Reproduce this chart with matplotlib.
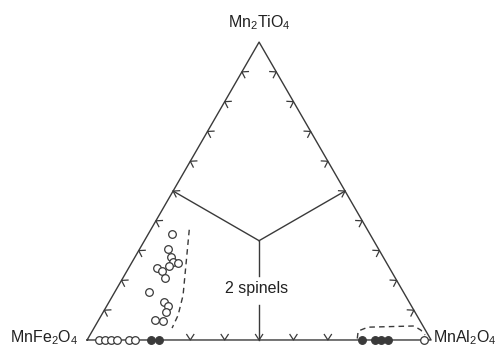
import numpy as np
import matplotlib.pyplot as plt

plt.rcParams['font.family'] = ['Liberation Sans', 'DejaVu Sans']
plt.rcParams['mathtext.default'] = 'regular'

# vertex labels: top, left, right
labels = ['Mn$_2$TiO$_4$', 'MnFe$_2$O$_4$', 'MnAl$_2$O$_4$']
field_label = '2 spinels'

# open circles inside the triangle (mole fraction Mn2TiO4, MnAl2O4)
open_ti = [0.357, 0.307, 0.277, 0.263, 0.260, 0.250, 0.243, 0.230, 0.207,
           0.160, 0.127, 0.113, 0.093, 0.067, 0.063]
open_al = [0.069, 0.082, 0.106, 0.118, 0.135, 0.113, 0.082, 0.103, 0.124,
           0.100, 0.160, 0.179, 0.183, 0.164, 0.189]

# compositions on the MnFe2O4 - MnAl2O4 join
join_open_al = [0.035, 0.052, 0.070, 0.087, 0.122, 0.140, 0.980]
join_filled_al = [0.186, 0.209, 0.799, 0.837, 0.855, 0.875]

# dashed boundaries of the one-spinel fields
left_gap_ti = [0.370, 0.260, 0.150, 0.083, 0.040]
left_gap_al = [0.112, 0.158, 0.204, 0.223, 0.227]
right_gap_ti = [0.005, 0.030, 0.043, 0.047, 0.033, 0.017]
right_gap_al = [0.783, 0.773, 0.795, 0.927, 0.954, 0.974]

# arrow marks along the edges (fraction along each edge)
left_ticks = [0.1, 0.2, 0.3, 0.4, 0.6, 0.7, 0.8, 0.9]
right_ticks = [0.1, 0.2, 0.3, 0.4, 0.6, 0.7, 0.8, 0.9]
bottom_ticks = [0.3, 0.4, 0.6, 0.7]

LINE = '#3a3a3a'
H = np.sqrt(3) / 2


def tern(ti, al):
    ti = np.asarray(ti, float)
    al = np.asarray(al, float)
    return al + ti / 2, ti * H


def chevron(ax, x, y, nx, ny, size=0.019, half=np.radians(33)):
    """Small arrowhead with tip at (x, y) pointing along (nx, ny)."""
    pts = []
    for s in (half, -half):
        c, sn = np.cos(s), np.sin(s)
        dx = -(nx * c - ny * sn)
        dy = -(nx * sn + ny * c)
        pts.append((x + size * dx, y + size * dy))
    ax.plot([pts[0][0], x, pts[1][0]], [pts[0][1], y, pts[1][1]],
            color=LINE, lw=0.9, zorder=2)


fig = plt.figure(figsize=(5.02, 3.48), dpi=100)
ax = fig.add_axes([0, 0, 1, 1])
ax.set_xlim(-0.253, 1.206)
ax.set_ylim(-0.0233, 0.9884)
ax.set_aspect('equal')
ax.axis('off')

# triangle
L, R, T = np.array([0, 0]), np.array([1, 0]), np.array([0.5, H])
tri = np.array([L, R, T, L])
ax.plot(tri[:, 0], tri[:, 1], color=LINE, lw=1.0, zorder=1)

# edge arrow marks
n_left = np.array([-H, 0.5])
n_right = np.array([H, 0.5])
for t in left_ticks:
    p = L + t * (T - L)
    chevron(ax, p[0], p[1], *n_left)
for t in right_ticks:
    p = R + t * (T - R)
    chevron(ax, p[0], p[1], *n_right)
for t in bottom_ticks:
    p = L + t * (R - L)
    chevron(ax, p[0], p[1], 0, -1)

# lines from the centroid to the edge midpoints
C = (L + R + T) / 3
for m, n in [((L + T) / 2, n_left), ((R + T) / 2, n_right)]:
    ax.plot([C[0], m[0]], [C[1], m[1]], color=LINE, lw=1.0, zorder=1)
    chevron(ax, m[0], m[1], *n)
ax.plot([C[0], C[0]], [C[1], 0.186], color=LINE, lw=1.0, zorder=1)
ax.plot([C[0], C[0]], [0.102, 0], color=LINE, lw=1.0, zorder=1)
chevron(ax, 0.5, 0, 0, -1)
ax.text(0.493, 0.137, field_label, ha='center', va='baseline',
        fontsize=11.5, color='#222')

# miscibility gap outlines
for ti, al in [(left_gap_ti, left_gap_al), (right_gap_ti, right_gap_al)]:
    x, y = tern(ti, al)
    ax.plot(x, y, color=LINE, lw=1.0, ls=(0, (4, 3)), zorder=2)

# data points
x, y = tern(open_ti, open_al)
ax.plot(x, y, 'o', ms=5.5, mfc='white', mec=LINE, mew=0.9, zorder=3)
x, y = tern(np.zeros(len(join_open_al)), join_open_al)
ax.plot(x, y, 'o', ms=5.5, mfc='white', mec=LINE, mew=0.9, zorder=3)
x, y = tern(np.zeros(len(join_filled_al)), join_filled_al)
ax.plot(x, y, 'o', ms=5.5, mfc=LINE, mec=LINE, mew=0.9, zorder=3)

# vertex labels
ax.text(0.5, 0.922, labels[0], ha='center', va='center', fontsize=11.5,
        color='#222')
ax.text(-0.026, -0.007, labels[1], ha='right', va='baseline',
        fontsize=11.5, color='#222')
ax.text(1.006, -0.007, labels[2], ha='left', va='baseline',
        fontsize=11.5, color='#222')

fig.savefig('out.png', dpi=100, facecolor='white')
